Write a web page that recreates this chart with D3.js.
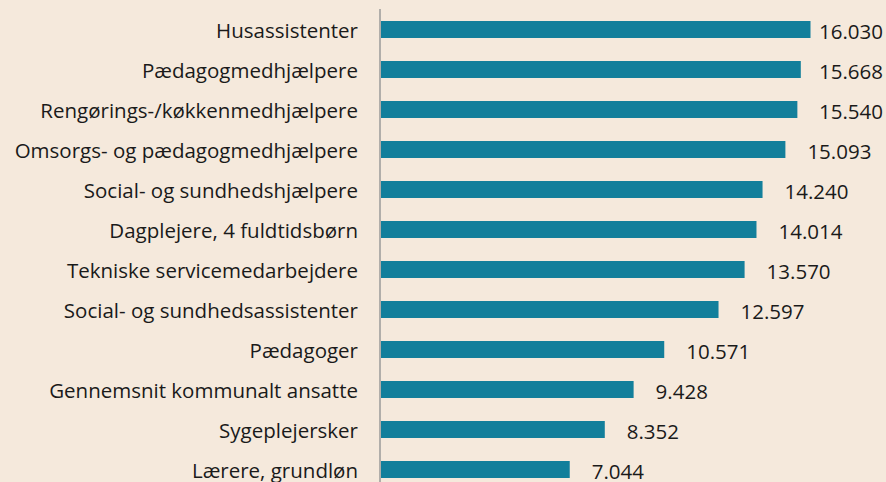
<!DOCTYPE html>
<html>
<head>
<meta charset="utf-8">
<script src="https://cdn.jsdelivr.net/npm/d3@7"></script>
<style>
html,body{margin:0;padding:0;background:#F5E9DC;}
svg{display:block;}
text{font-family:"Open Sans","Noto Sans",sans-serif;fill:#1a1a1a;}
</style>
</head>
<body>
<svg id="chart" width="886" height="482"></svg>
<script>
const categories = [
  "Husassistenter",
  "Pædagogmedhjælpere",
  "Rengørings-/køkkenmedhjælpere",
  "Omsorgs- og pædagogmedhjælpere",
  "Social- og sundhedshjælpere",
  "Dagplejere, 4 fuldtidsbørn",
  "Tekniske servicemedarbejdere",
  "Social- og sundhedsassistenter",
  "Pædagoger",
  "Gennemsnit kommunalt ansatte",
  "Sygeplejersker",
  "Lærere, grundløn"
];
const values = [16030, 15668, 15540, 15093, 14240, 14014, 13570, 12597, 10571, 9428, 8352, 7044];
const valueLabels = ["16.030","15.668","15.540","15.093","14.240","14.014","13.570","12.597","10.571","9.428","8.352","7.044"];

const W = 886, H = 482;
const svg = d3.select("#chart");
svg.append("rect").attr("width", W).attr("height", H).attr("fill", "#F5E9DC");

const y = d3.scaleBand().domain(categories).range([9.5, 489.5]).paddingInner(0.575).paddingOuter(0.2875);
const x = d3.scaleLinear().domain([0, 16030]).range([381, 810.5]);

const fs = 20.5;

svg.selectAll("rect.bar").data(values).join("rect")
  .attr("class", "bar")
  .attr("x", x(0))
  .attr("y", (d, i) => y(categories[i]))
  .attr("width", d => x(d) - x(0))
  .attr("height", y.bandwidth())
  .attr("fill", "#137F9B");

svg.selectAll("text.cat").data(categories).join("text")
  .attr("class", "cat")
  .attr("x", 358)
  .attr("y", d => y(d) + y.bandwidth() / 2)
  .attr("text-anchor", "end")
  .attr("dominant-baseline", "central")
  .attr("font-size", fs)
  .text(d => d);

svg.selectAll("text.val").data(values).join("text")
  .attr("class", "val")
  .attr("y", (d, i) => y(categories[i]) + y.bandwidth() / 2 + 1.5)
  .attr("dominant-baseline", "central")
  .attr("font-size", fs)
  .text((d, i) => valueLabels[i])
  .attr("x", function(d) {
    const w = this.getComputedTextLength();
    return Math.min(x(d) + 22, W - 3 - w);
  });

svg.append("line")
  .attr("x1", 380).attr("x2", 380)
  .attr("y1", 9).attr("y2", H)
  .attr("stroke", "#9A9A9A").attr("stroke-width", 1.5);
</script>
</body>
</html>
